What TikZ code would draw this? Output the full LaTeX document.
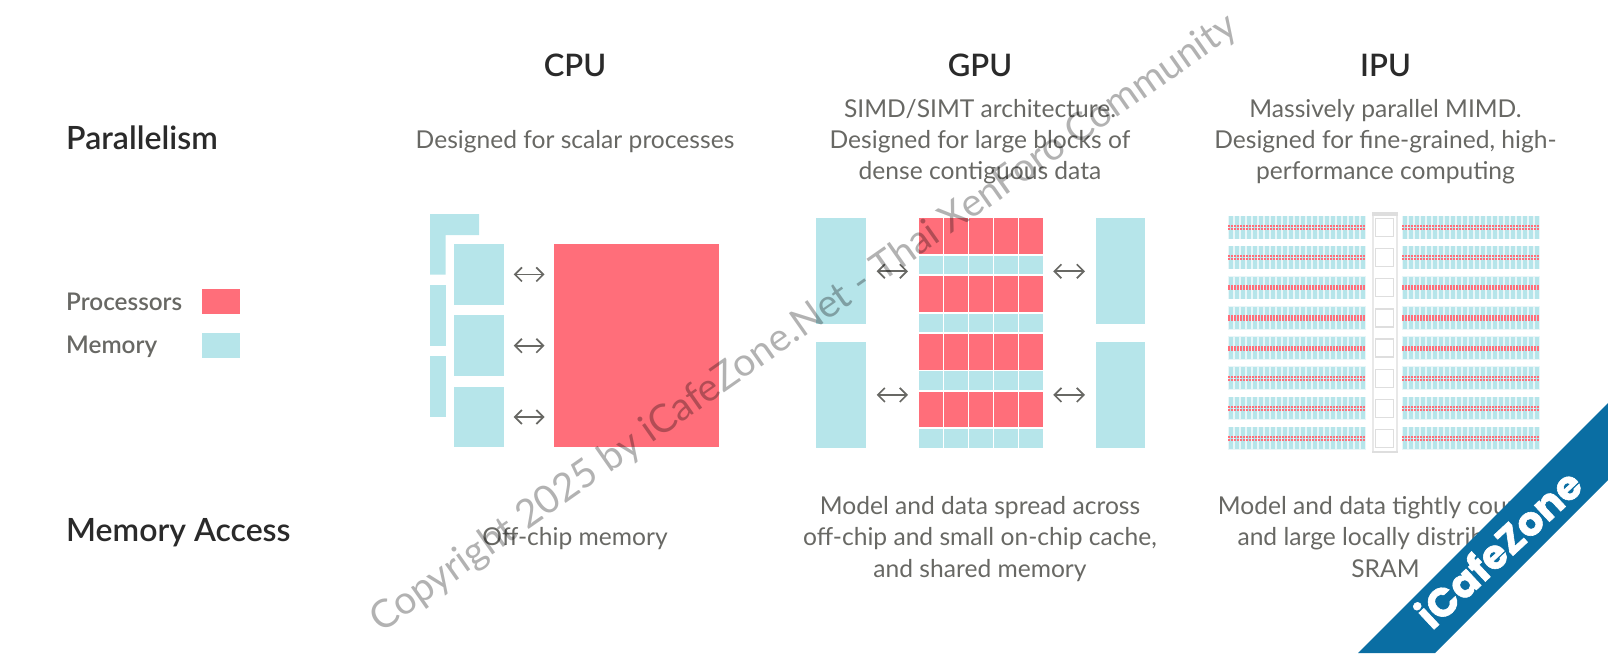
\documentclass[tikz,border=0pt]{standalone}
\usepackage{xcolor}
\usepackage{fontspec}
\usepackage{tikz}
\setmainfont{Lato}
\newfontfamily\titlefont{Lato Semibold}
\newfontfamily\bannerfont{Poppins}[BoldFont={* Bold},BoldFeatures={FakeBold=1.5}]
\usetikzlibrary{arrows.meta,positioning,calc}
\definecolor{procred}{RGB}{255,110,122}
\definecolor{membluefill}{RGB}{182,229,234}
\definecolor{bankback}{RGB}{232,246,248}
\definecolor{tilegray}{RGB}{222,222,222}
\definecolor{captext}{RGB}{42,42,42}
\definecolor{bodytext}{RGB}{104,104,100}
\definecolor{bannerblue}{RGB}{10,110,163}

\begin{document}
\begin{tikzpicture}[
  x=1pt, y=-1pt,
  block/.style={rectangle, inner sep=0pt, outer sep=0pt, minimum width=#1},
  memblock/.style={block=#1, fill=membluefill},
  procblock/.style={block=#1, fill=procred},
  heading/.style={font=\titlefont\fontsize{31}{34}\selectfont, text=captext, inner sep=0pt},
  rowtitle/.style={anchor=west, font=\titlefont\fontsize{32}{36}\selectfont, text=captext, inner sep=0pt},
  legendtext/.style={anchor=west, font=\titlefont\fontsize{24.3}{28}\selectfont, text=bodytext, inner sep=0pt},
  bodycopy/.style={align=center, font=\fontsize{24.6}{31.2}\selectfont, text=bodytext, inner sep=0pt},
  memlink/.style={{Straight Barb[length=7pt,width=14pt]}-{Straight Barb[length=7pt,width=14pt]}, line width=1.7pt, draw=bodytext},
]
  \useasboundingbox (0,0) rectangle (1608,653);

  % Headings
  \node[heading] (cpuhead) at (575,65) {CPU};
  \node[heading] (gpuhead) at (980,65) {GPU};
  \node[heading] (ipuhead) at (1385.5,65) {IPU};
  \node[rowtitle] (parallel) at (66,138) {Parallelism};
  \node[rowtitle] (access) at (66,533) {Memory Access};

  % Legend
  \node[legendtext] (proclabel) at (66,301.5) {Processors};
  \node[legendtext] (memlabel) at (66,347) {Memory};
  \node[procblock=38pt, minimum height=25pt] (procswatch) at (221,301.5) {};
  \node[memblock=38pt, minimum height=25pt] (memswatch) at (221,345.6) {};

  % Descriptions
  \node[bodycopy] (cpupar) at (575,141.5) {Designed for scalar processes};
  \node[bodycopy] (gpupar) at (980,141.5) {SIMD/SIMT architecture.\\Designed for large blocks of\\dense contiguous data};
  \node[bodycopy] (ipupar) at (1385.5,141.5) {Massively parallel MIMD.\\Designed for fine-grained, high-\\performance computing};
  \node[bodycopy] (cpuacc) at (575,539) {Off-chip memory};
  \node[bodycopy] (gpuacc) at (980,539) {Model and data spread across\\off-chip and small on-chip cache,\\and shared memory};
  \node[bodycopy] (ipuacc) at (1385.5,537) {Model and data tightly coupled\\and large locally distributed\\SRAM};

  % CPU
  \node[procblock=165pt, minimum height=203.5pt] (cpucore) at (636.5,345.4) {};
  \node[memblock=49.4pt, minimum height=60.7pt] (cpumem1) at (479,274.4) {};
  \node[memblock=49.4pt, minimum height=60.7pt, below=10.6pt of cpumem1] (cpumem2) {};
  \node[memblock=49.4pt, minimum height=60.7pt, below=10.6pt of cpumem2] (cpumem3) {};
  \fill[membluefill] (430,214) -| (479,235) -| (445.5,274.7) -| cycle;
  \node[memblock=15.5pt, minimum height=60.7pt] (cpucache2) at (437.75,315.3) {};
  \node[memblock=15.5pt, minimum height=60.7pt, below=10.6pt of cpucache2] (cpucache3) {};
  \foreach \i in {1,2,3}
    \draw[memlink, shorten <=10pt, shorten >=9.5pt] (cpumem\i.east) -- (cpumem\i.east -| cpucore.west);

  % GPU
  \foreach \r in {0,1,2,3} {
    \foreach \c in {0,1,2,3,4} {
      \node[procblock=23.8pt, minimum height=35.7pt] (gpuproc\r\c) at ({930.9+25.1*\c},{236.2+57.8*\r}) {};
      \node[memblock=23.8pt, minimum height=18.6pt] (gpumem\r\c) at ({930.9+25.1*\c},{265+57.8*\r}) {};
    }
  }
  \node[memblock=49.7pt, minimum height=106pt] (gpuleft1) at (840.8,271.3) {};
  \node[memblock=49.7pt, minimum height=105.7pt] (gpuleft2) at (840.8,394.9) {};
  \node[memblock=49pt, minimum height=106pt] (gpuright1) at (1120.5,271.3) {};
  \node[memblock=49pt, minimum height=105.7pt] (gpuright2) at (1120.5,394.9) {};
  \draw[memlink, shorten <=11pt, shorten >=11pt] (gpuleft1.east) -- (gpuleft1.east -| gpuproc00.west);
  \draw[memlink, shorten <=11pt, shorten >=11pt] (gpuleft2.east) -- (gpuleft2.east -| gpuproc00.west);
  \draw[memlink, shorten <=10pt, shorten >=11pt] (gpuright1.west -| gpuproc04.east) -- (gpuright1.west);
  \draw[memlink, shorten <=10pt, shorten >=11pt] (gpuright2.west -| gpuproc04.east) -- (gpuright2.west);

  % IPU
  \foreach \r in {0,...,7} {
    \pgfmathsetmacro{\rowtop}{215.7+30.14*\r}
    \foreach \bank in {1228,1402} {
      \fill[bankback] (\bank,\rowtop) rectangle ++(138,23.4);
      \foreach \s in {0,...,22}
        \fill[membluefill] ({\bank+1+6*\s},\rowtop+0.6) rectangle ++(4,22.2);
      \foreach \s in {0,...,45} {
        \fill[procred] ({\bank+3*\s},\rowtop+9.3) rectangle ++(2,2.3);
        \fill[procred] ({\bank+3*\s},\rowtop+12.2) rectangle ++(2,2.3);
      }
    }
    \draw[tilegray, line width=1.2pt, fill=white] (1375.6,\rowtop+2.8) rectangle ++(18,18);
  }
  \draw[tilegray!70, line width=2pt] (1373.2,213) -- (1373.2,452);
  \draw[tilegray!70, line width=2pt] (1397,213) -- (1397,452);
  \fill[tilegray] (1372.2,212.3) rectangle (1398,215.7);
  \fill[tilegray] (1372.2,450.5) rectangle (1398,453);

  % Ribbon and overprint
  \node[rotate=35, font=\fontsize{39}{42}\selectfont, text=black, opacity=.3, inner sep=0pt] (copyline) at (804,324) {Copyright 2025 by iCafeZone.Net - Thai XenForo Community};
  \fill[bannerblue] (1608,403) -- (1608,480) -- (1435,653) -- (1358,653) -- cycle;
  \node[rotate=43, font=\bannerfont\fontsize{40}{44}\selectfont\bfseries, text=white, inner sep=0pt] (ribbon) at (1498,548) {iCafeZone};
\end{tikzpicture}
\end{document}
